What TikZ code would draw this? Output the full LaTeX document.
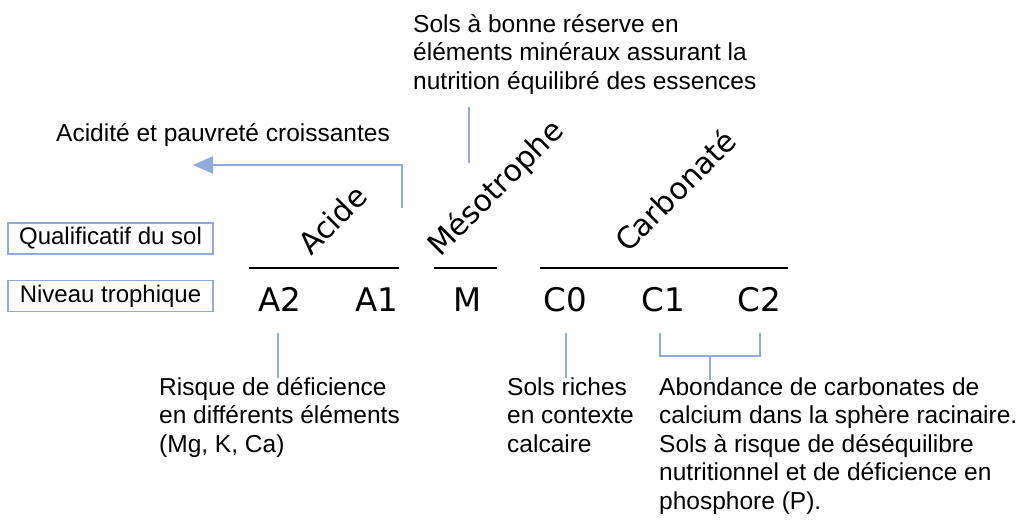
\documentclass[tikz,border=0pt]{standalone}
\usepackage{fontspec}
\setmainfont{Liberation Sans}
\newfontfamily\verd{DejaVu Sans}
\usetikzlibrary{arrows.meta}
\definecolor{bleu}{RGB}{143,170,220}

\begin{document}
\begin{tikzpicture}[
  x=1pt,
  y=-1pt,
  texte/.style={anchor=north west, inner sep=0pt, align=left, font=\fontsize{24.5}{28.5}\selectfont},
  cadre/.style={draw=bleu, line width=1.5pt, minimum width=205pt, minimum height=31pt, inner sep=0pt, font=\fontsize{24}{28}\selectfont},
  niv/.style={anchor=base, inner sep=0pt, font=\verd\fontsize{32.5}{36}\selectfont},
  qual/.style={anchor=base west, inner sep=0pt, rotate=45, font=\verd\fontsize{30}{36}\selectfont},
  trait/.style={line width=2pt},
  lien/.style={draw=bleu, line width=2pt}
]
  \useasboundingbox (0,0) rectangle (1025,529);

  \node[cadre] (boxqual) at (110.5,238.5) {Qualificatif du sol};
  \node[cadre] (boxniv) at (110.5,296) {Niveau trophique};

  \node[qual] (acide) at (311,257) {Acide};
  \node[qual] (meso) at (440,258) {Mésotrophe};
  \node[qual] (carbo) at (628,254) {Carbonaté};

  \draw[trait] (249,268) -- (399,268);
  \draw[trait] (434,268) -- (497,268);
  \draw[trait] (540,268) -- (788,268);

  \node[niv] (A2) at (280,312) {A2};
  \node[niv] (A1) at (377,312) {A1};
  \node[niv] (M) at (468,312) {M};
  \node[niv] (C0) at (565,312) {C0};
  \node[niv] (C1) at (663,312) {C1};
  \node[niv] (C2) at (759,312) {C2};

  \node[texte] (acidite) at (56,121) {\strut Acidité et pauvreté croissantes};
  \node[texte] (reserve) at (413,12) {\strut Sols à bonne réserve en\\éléments minéraux assurant la\\nutrition équilibré des essences};
  \node[texte] (risque) at (159,375) {\strut Risque de déficience\\en différents éléments\\(Mg, K, Ca)};
  \node[texte] (riches) at (507,375) {\strut Sols riches\\en contexte\\calcaire};
  \node[texte] (abond) at (659,375) {\strut Abondance de carbonates de\\calcium dans la sphère racinaire.\\Sols à risque de déséquilibre\\nutritionnel et de déficience en\\phosphore (P).};

  % traits de rappel
  \coordinate (coin) at (402,208);
  \coordinate (pointe) at (193,165);
  \draw[lien, -{Triangle[length=20pt, width=17pt]}] (coin) |- (pointe);
  \coordinate (mesoh) at (469,107);
  \coordinate (mesob) at (469,163);
  \draw[lien] (mesoh) -- (mesob);
  \coordinate (a2h) at (278,333);
  \coordinate (a2b) at (278,378);
  \draw[lien] (a2h) -- (a2b);
  \coordinate (c0h) at (566,333);
  \coordinate (c0b) at (566,378);
  \draw[lien] (c0h) -- (c0b);
  \coordinate (c1h) at (660,333);
  \coordinate (c2h) at (760,333);
  \coordinate (cb) at (710,380);
  \draw[lien] (c1h) |- (cb |- 0,356) -| (c2h);
  \draw[lien] (cb |- 0,356) -- (cb);
\end{tikzpicture}
\end{document}
